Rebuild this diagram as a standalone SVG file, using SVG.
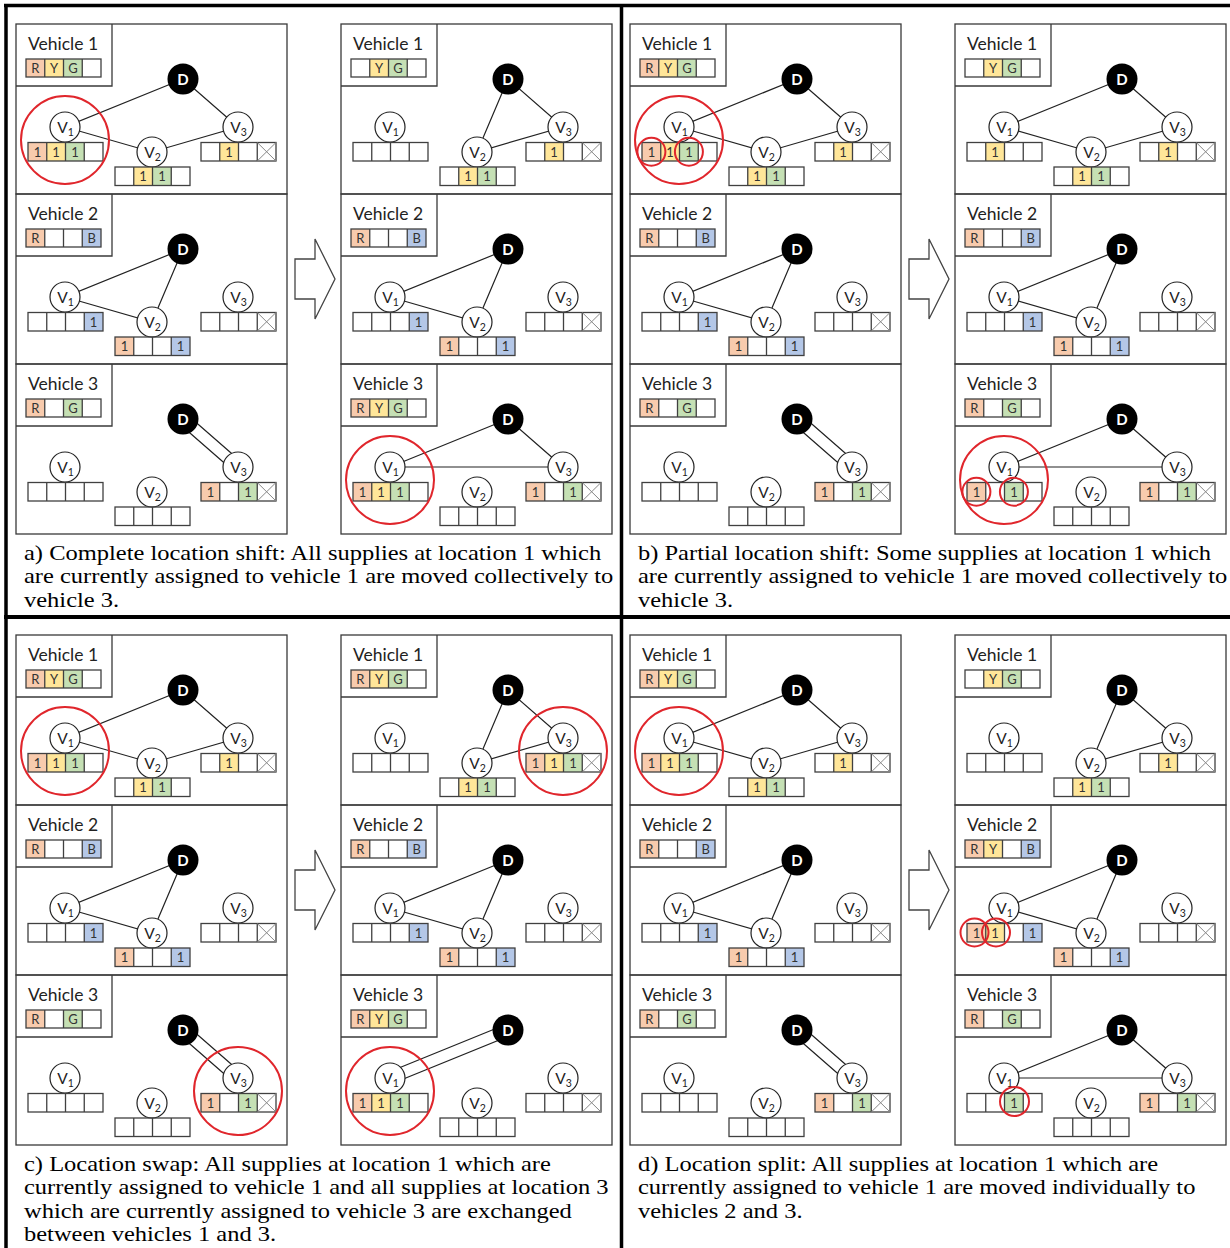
<svg xmlns="http://www.w3.org/2000/svg" xmlns:xlink="http://www.w3.org/1999/xlink" width="1230" height="1248" viewBox="0 0 1230 1248">
<style>
.fr{fill:none;stroke:#3a3a3a;stroke-width:1.3}
.gb{fill:none;stroke:#404040;stroke-width:1.3}
.R{fill:#F8CBAD}.Y{fill:#FFE699}.G{fill:#C5E0B4}.B{fill:#B4C7E7}
.e{fill:none;stroke:#222;stroke-width:1.2}
.n{fill:#fff;stroke:#222;stroke-width:1.2}
.dn{fill:#000}
.xl{stroke:#888;stroke-width:1}
.rd{fill:none;stroke:#E0262C;stroke-width:2}
.lb{font-family:Lato,"Open Sans",sans-serif;font-size:17.5px;fill:#222}
.ct{font-family:Lato,"Open Sans",sans-serif;font-size:13px;fill:#333;text-anchor:middle}
.vt{font-family:Lato,"Open Sans",sans-serif;font-size:15.5px;fill:#222;text-anchor:middle}
.sb{font-size:10.5px}
.dt{font-family:Lato,"Open Sans",sans-serif;font-size:15px;font-weight:bold;fill:#fff;text-anchor:middle}
.cap{font-family:"Liberation Serif","Times New Roman",serif;font-size:21px;fill:#000}
.ar{fill:#fff;stroke:#444;stroke-width:1.3}
.bd{stroke:#000;fill:none}
</style>
<defs>
<g id="fr"><rect class="fr" x="0" y="0" width="271" height="170"/><path class="fr" d="M0,62H96V0"/></g>
<g id="g4"><rect class="gb" width="75" height="18.5"/><path class="gb" d="M18.75,0V18.5M37.5,0V18.5M56.25,0V18.5"/></g>
<g id="g4l"><rect class="gb" width="75" height="18"/><path class="gb" d="M18.75,0V18M37.5,0V18M56.25,0V18"/></g>
<path id="xx" class="xl" d="M56.25,0L75,18.5M56.25,18.5L75,0"/>
</defs>
<rect width="1230" height="1248" fill="#fff"/>

<!-- ================= PANEL A ================= -->
<g id="aL1" transform="translate(16,24)">
<use href="#fr"/>
<text class="lb" x="12" y="26">Vehicle 1</text>
<g transform="translate(10,35)"><rect class="R" width="18.75" height="18"/><rect class="Y" x="18.75" width="18.75" height="18"/><rect class="G" x="37.5" width="18.75" height="18"/><use href="#g4l"/><text class="ct" x="9.4" y="13.5">R</text><text class="ct" x="28.1" y="13.5">Y</text><text class="ct" x="46.9" y="13.5">G</text></g>
<g class="edges"><path class="e" d="M167,55L49,103L136,128L222,103Z"/></g>
<g id="aL1-D"><circle class="dn" cx="167" cy="55" r="15.5"/><text class="dt" x="167" y="60.5">D</text></g>
<g id="aL1-V1"><circle class="n" cx="49" cy="103" r="15"/><text class="vt" x="49.5" y="108.5">V<tspan class="sb" dy="3">1</tspan></text></g>
<g id="aL1-V2"><circle class="n" cx="136" cy="128" r="15"/><text class="vt" x="136.5" y="133.5">V<tspan class="sb" dy="3">2</tspan></text></g>
<g id="aL1-V3"><circle class="n" cx="222" cy="103" r="15"/><text class="vt" x="222.5" y="108.5">V<tspan class="sb" dy="3">3</tspan></text></g>
<g transform="translate(12,118.5)"><rect class="R" width="18.75" height="18.5"/><rect class="Y" x="18.75" width="18.75" height="18.5"/><rect class="G" x="37.5" width="18.75" height="18.5"/><use href="#g4"/><text class="ct" x="9.4" y="14">1</text><text class="ct" x="28.1" y="14">1</text><text class="ct" x="46.9" y="14">1</text></g>
<g transform="translate(99,143)"><rect class="Y" x="18.75" width="18.75" height="18.5"/><rect class="G" x="37.5" width="18.75" height="18.5"/><use href="#g4"/><text class="ct" x="28.1" y="14">1</text><text class="ct" x="46.9" y="14">1</text></g>
<g transform="translate(185,118.5)"><rect class="Y" x="18.75" width="18.75" height="18.5"/><use href="#g4"/><use href="#xx"/><text class="ct" x="28.1" y="14">1</text></g>
<circle class="rd" cx="49" cy="116" r="44"/>
</g>

<g id="aL2" transform="translate(16,194)">
<use href="#fr"/>
<text class="lb" x="12" y="26">Vehicle 2</text>
<g transform="translate(10,35)"><rect class="R" width="18.75" height="18"/><rect class="B" x="56.25" width="18.75" height="18"/><use href="#g4l"/><text class="ct" x="9.4" y="13.5">R</text><text class="ct" x="65.6" y="13.5">B</text></g>
<g class="edges"><path class="e" d="M167,55L49,103L136,128Z"/></g>
<g id="aL2-D"><circle class="dn" cx="167" cy="55" r="15.5"/><text class="dt" x="167" y="60.5">D</text></g>
<g id="aL2-V1"><circle class="n" cx="49" cy="103" r="15"/><text class="vt" x="49.5" y="108.5">V<tspan class="sb" dy="3">1</tspan></text></g>
<g id="aL2-V2"><circle class="n" cx="136" cy="128" r="15"/><text class="vt" x="136.5" y="133.5">V<tspan class="sb" dy="3">2</tspan></text></g>
<g id="aL2-V3"><circle class="n" cx="222" cy="103" r="15"/><text class="vt" x="222.5" y="108.5">V<tspan class="sb" dy="3">3</tspan></text></g>
<g transform="translate(12,118.5)"><rect class="B" x="56.25" width="18.75" height="18.5"/><use href="#g4"/><text class="ct" x="65.6" y="14">1</text></g>
<g transform="translate(99,143)"><rect class="R" width="18.75" height="18.5"/><rect class="B" x="56.25" width="18.75" height="18.5"/><use href="#g4"/><text class="ct" x="9.4" y="14">1</text><text class="ct" x="65.6" y="14">1</text></g>
<g transform="translate(185,118.5)"><use href="#g4"/><use href="#xx"/></g>
</g>

<g id="aL3" transform="translate(16,364)">
<use href="#fr"/>
<text class="lb" x="12" y="26">Vehicle 3</text>
<g transform="translate(10,35)"><rect class="R" width="18.75" height="18"/><rect class="G" x="37.5" width="18.75" height="18"/><use href="#g4l"/><text class="ct" x="9.4" y="13.5">R</text><text class="ct" x="46.9" y="13.5">G</text></g>
<g class="edges"><path class="e" d="M170.95,50.48L225.95,98.48M163.05,59.52L218.05,107.52"/></g>
<g id="aL3-D"><circle class="dn" cx="167" cy="55" r="15.5"/><text class="dt" x="167" y="60.5">D</text></g>
<g id="aL3-V1"><circle class="n" cx="49" cy="103" r="15"/><text class="vt" x="49.5" y="108.5">V<tspan class="sb" dy="3">1</tspan></text></g>
<g id="aL3-V2"><circle class="n" cx="136" cy="128" r="15"/><text class="vt" x="136.5" y="133.5">V<tspan class="sb" dy="3">2</tspan></text></g>
<g id="aL3-V3"><circle class="n" cx="222" cy="103" r="15"/><text class="vt" x="222.5" y="108.5">V<tspan class="sb" dy="3">3</tspan></text></g>
<g transform="translate(12,118.5)"><use href="#g4"/></g>
<g transform="translate(99,143)"><use href="#g4"/></g>
<g transform="translate(185,118.5)"><rect class="R" width="18.75" height="18.5"/><rect class="G" x="37.5" width="18.75" height="18.5"/><use href="#g4"/><use href="#xx"/><text class="ct" x="9.4" y="14">1</text><text class="ct" x="46.9" y="14">1</text></g>
</g>

<g id="aR1" transform="translate(341,24)">
<use href="#fr"/>
<text class="lb" x="12" y="26">Vehicle 1</text>
<g transform="translate(10,35)"><rect class="Y" x="18.75" width="18.75" height="18"/><rect class="G" x="37.5" width="18.75" height="18"/><use href="#g4l"/><text class="ct" x="28.1" y="13.5">Y</text><text class="ct" x="46.9" y="13.5">G</text></g>
<g class="edges"><path class="e" d="M167,55L136,128L222,103Z"/></g>
<g id="aR1-D"><circle class="dn" cx="167" cy="55" r="15.5"/><text class="dt" x="167" y="60.5">D</text></g>
<g id="aR1-V1"><circle class="n" cx="49" cy="103" r="15"/><text class="vt" x="49.5" y="108.5">V<tspan class="sb" dy="3">1</tspan></text></g>
<g id="aR1-V2"><circle class="n" cx="136" cy="128" r="15"/><text class="vt" x="136.5" y="133.5">V<tspan class="sb" dy="3">2</tspan></text></g>
<g id="aR1-V3"><circle class="n" cx="222" cy="103" r="15"/><text class="vt" x="222.5" y="108.5">V<tspan class="sb" dy="3">3</tspan></text></g>
<g transform="translate(12,118.5)"><use href="#g4"/></g>
<g transform="translate(99,143)"><rect class="Y" x="18.75" width="18.75" height="18.5"/><rect class="G" x="37.5" width="18.75" height="18.5"/><use href="#g4"/><text class="ct" x="28.1" y="14">1</text><text class="ct" x="46.9" y="14">1</text></g>
<g transform="translate(185,118.5)"><rect class="Y" x="18.75" width="18.75" height="18.5"/><use href="#g4"/><use href="#xx"/><text class="ct" x="28.1" y="14">1</text></g>
</g>

<g id="aR2" transform="translate(341,194)">
<use href="#fr"/>
<text class="lb" x="12" y="26">Vehicle 2</text>
<g transform="translate(10,35)"><rect class="R" width="18.75" height="18"/><rect class="B" x="56.25" width="18.75" height="18"/><use href="#g4l"/><text class="ct" x="9.4" y="13.5">R</text><text class="ct" x="65.6" y="13.5">B</text></g>
<g class="edges"><path class="e" d="M167,55L49,103L136,128Z"/></g>
<g id="aR2-D"><circle class="dn" cx="167" cy="55" r="15.5"/><text class="dt" x="167" y="60.5">D</text></g>
<g id="aR2-V1"><circle class="n" cx="49" cy="103" r="15"/><text class="vt" x="49.5" y="108.5">V<tspan class="sb" dy="3">1</tspan></text></g>
<g id="aR2-V2"><circle class="n" cx="136" cy="128" r="15"/><text class="vt" x="136.5" y="133.5">V<tspan class="sb" dy="3">2</tspan></text></g>
<g id="aR2-V3"><circle class="n" cx="222" cy="103" r="15"/><text class="vt" x="222.5" y="108.5">V<tspan class="sb" dy="3">3</tspan></text></g>
<g transform="translate(12,118.5)"><rect class="B" x="56.25" width="18.75" height="18.5"/><use href="#g4"/><text class="ct" x="65.6" y="14">1</text></g>
<g transform="translate(99,143)"><rect class="R" width="18.75" height="18.5"/><rect class="B" x="56.25" width="18.75" height="18.5"/><use href="#g4"/><text class="ct" x="9.4" y="14">1</text><text class="ct" x="65.6" y="14">1</text></g>
<g transform="translate(185,118.5)"><use href="#g4"/><use href="#xx"/></g>
</g>

<g id="aR3" transform="translate(341,364)">
<use href="#fr"/>
<text class="lb" x="12" y="26">Vehicle 3</text>
<g transform="translate(10,35)"><rect class="R" width="18.75" height="18"/><rect class="Y" x="18.75" width="18.75" height="18"/><rect class="G" x="37.5" width="18.75" height="18"/><use href="#g4l"/><text class="ct" x="9.4" y="13.5">R</text><text class="ct" x="28.1" y="13.5">Y</text><text class="ct" x="46.9" y="13.5">G</text></g>
<g class="edges"><path class="e" d="M167,55L49,103L222,103Z"/></g>
<g id="aR3-D"><circle class="dn" cx="167" cy="55" r="15.5"/><text class="dt" x="167" y="60.5">D</text></g>
<g id="aR3-V1"><circle class="n" cx="49" cy="103" r="15"/><text class="vt" x="49.5" y="108.5">V<tspan class="sb" dy="3">1</tspan></text></g>
<g id="aR3-V2"><circle class="n" cx="136" cy="128" r="15"/><text class="vt" x="136.5" y="133.5">V<tspan class="sb" dy="3">2</tspan></text></g>
<g id="aR3-V3"><circle class="n" cx="222" cy="103" r="15"/><text class="vt" x="222.5" y="108.5">V<tspan class="sb" dy="3">3</tspan></text></g>
<g transform="translate(12,118.5)"><rect class="R" width="18.75" height="18.5"/><rect class="Y" x="18.75" width="18.75" height="18.5"/><rect class="G" x="37.5" width="18.75" height="18.5"/><use href="#g4"/><text class="ct" x="9.4" y="14">1</text><text class="ct" x="28.1" y="14">1</text><text class="ct" x="46.9" y="14">1</text></g>
<g transform="translate(99,143)"><use href="#g4"/></g>
<g transform="translate(185,118.5)"><rect class="R" width="18.75" height="18.5"/><rect class="G" x="37.5" width="18.75" height="18.5"/><use href="#g4"/><use href="#xx"/><text class="ct" x="9.4" y="14">1</text><text class="ct" x="46.9" y="14">1</text></g>
<circle class="rd" cx="49" cy="116" r="44"/>
</g>
<polygon id="arrowA" class="ar" points="295,259 315,259 315,239 335,279 315,319 315,299 295,299"/>

<!-- ================= PANEL B ================= -->
<g id="bL1" transform="translate(630,24)">
<use href="#fr"/>
<text class="lb" x="12" y="26">Vehicle 1</text>
<g transform="translate(10,35)"><rect class="R" width="18.75" height="18"/><rect class="Y" x="18.75" width="18.75" height="18"/><rect class="G" x="37.5" width="18.75" height="18"/><use href="#g4l"/><text class="ct" x="9.4" y="13.5">R</text><text class="ct" x="28.1" y="13.5">Y</text><text class="ct" x="46.9" y="13.5">G</text></g>
<g class="edges"><path class="e" d="M167,55L49,103L136,128L222,103Z"/></g>
<g id="bL1-D"><circle class="dn" cx="167" cy="55" r="15.5"/><text class="dt" x="167" y="60.5">D</text></g>
<g id="bL1-V1"><circle class="n" cx="49" cy="103" r="15"/><text class="vt" x="49.5" y="108.5">V<tspan class="sb" dy="3">1</tspan></text></g>
<g id="bL1-V2"><circle class="n" cx="136" cy="128" r="15"/><text class="vt" x="136.5" y="133.5">V<tspan class="sb" dy="3">2</tspan></text></g>
<g id="bL1-V3"><circle class="n" cx="222" cy="103" r="15"/><text class="vt" x="222.5" y="108.5">V<tspan class="sb" dy="3">3</tspan></text></g>
<g transform="translate(12,118.5)"><rect class="R" width="18.75" height="18.5"/><rect class="Y" x="18.75" width="18.75" height="18.5"/><rect class="G" x="37.5" width="18.75" height="18.5"/><use href="#g4"/><text class="ct" x="9.4" y="14">1</text><text class="ct" x="28.1" y="14">1</text><text class="ct" x="46.9" y="14">1</text></g>
<g transform="translate(99,143)"><rect class="Y" x="18.75" width="18.75" height="18.5"/><rect class="G" x="37.5" width="18.75" height="18.5"/><use href="#g4"/><text class="ct" x="28.1" y="14">1</text><text class="ct" x="46.9" y="14">1</text></g>
<g transform="translate(185,118.5)"><rect class="Y" x="18.75" width="18.75" height="18.5"/><use href="#g4"/><use href="#xx"/><text class="ct" x="28.1" y="14">1</text></g>
<circle class="rd" cx="49" cy="116" r="44"/>
<circle class="rd" cx="21.4" cy="127.75" r="14"/>
<circle class="rd" cx="58.9" cy="127.75" r="14"/>
</g>

<g id="bL2" transform="translate(630,194)">
<use href="#fr"/>
<text class="lb" x="12" y="26">Vehicle 2</text>
<g transform="translate(10,35)"><rect class="R" width="18.75" height="18"/><rect class="B" x="56.25" width="18.75" height="18"/><use href="#g4l"/><text class="ct" x="9.4" y="13.5">R</text><text class="ct" x="65.6" y="13.5">B</text></g>
<g class="edges"><path class="e" d="M167,55L49,103L136,128Z"/></g>
<g id="bL2-D"><circle class="dn" cx="167" cy="55" r="15.5"/><text class="dt" x="167" y="60.5">D</text></g>
<g id="bL2-V1"><circle class="n" cx="49" cy="103" r="15"/><text class="vt" x="49.5" y="108.5">V<tspan class="sb" dy="3">1</tspan></text></g>
<g id="bL2-V2"><circle class="n" cx="136" cy="128" r="15"/><text class="vt" x="136.5" y="133.5">V<tspan class="sb" dy="3">2</tspan></text></g>
<g id="bL2-V3"><circle class="n" cx="222" cy="103" r="15"/><text class="vt" x="222.5" y="108.5">V<tspan class="sb" dy="3">3</tspan></text></g>
<g transform="translate(12,118.5)"><rect class="B" x="56.25" width="18.75" height="18.5"/><use href="#g4"/><text class="ct" x="65.6" y="14">1</text></g>
<g transform="translate(99,143)"><rect class="R" width="18.75" height="18.5"/><rect class="B" x="56.25" width="18.75" height="18.5"/><use href="#g4"/><text class="ct" x="9.4" y="14">1</text><text class="ct" x="65.6" y="14">1</text></g>
<g transform="translate(185,118.5)"><use href="#g4"/><use href="#xx"/></g>
</g>

<g id="bL3" transform="translate(630,364)">
<use href="#fr"/>
<text class="lb" x="12" y="26">Vehicle 3</text>
<g transform="translate(10,35)"><rect class="R" width="18.75" height="18"/><rect class="G" x="37.5" width="18.75" height="18"/><use href="#g4l"/><text class="ct" x="9.4" y="13.5">R</text><text class="ct" x="46.9" y="13.5">G</text></g>
<g class="edges"><path class="e" d="M170.95,50.48L225.95,98.48M163.05,59.52L218.05,107.52"/></g>
<g id="bL3-D"><circle class="dn" cx="167" cy="55" r="15.5"/><text class="dt" x="167" y="60.5">D</text></g>
<g id="bL3-V1"><circle class="n" cx="49" cy="103" r="15"/><text class="vt" x="49.5" y="108.5">V<tspan class="sb" dy="3">1</tspan></text></g>
<g id="bL3-V2"><circle class="n" cx="136" cy="128" r="15"/><text class="vt" x="136.5" y="133.5">V<tspan class="sb" dy="3">2</tspan></text></g>
<g id="bL3-V3"><circle class="n" cx="222" cy="103" r="15"/><text class="vt" x="222.5" y="108.5">V<tspan class="sb" dy="3">3</tspan></text></g>
<g transform="translate(12,118.5)"><use href="#g4"/></g>
<g transform="translate(99,143)"><use href="#g4"/></g>
<g transform="translate(185,118.5)"><rect class="R" width="18.75" height="18.5"/><rect class="G" x="37.5" width="18.75" height="18.5"/><use href="#g4"/><use href="#xx"/><text class="ct" x="9.4" y="14">1</text><text class="ct" x="46.9" y="14">1</text></g>
</g>

<g id="bR1" transform="translate(955,24)">
<use href="#fr"/>
<text class="lb" x="12" y="26">Vehicle 1</text>
<g transform="translate(10,35)"><rect class="Y" x="18.75" width="18.75" height="18"/><rect class="G" x="37.5" width="18.75" height="18"/><use href="#g4l"/><text class="ct" x="28.1" y="13.5">Y</text><text class="ct" x="46.9" y="13.5">G</text></g>
<g class="edges"><path class="e" d="M167,55L49,103L136,128L222,103Z"/></g>
<g id="bR1-D"><circle class="dn" cx="167" cy="55" r="15.5"/><text class="dt" x="167" y="60.5">D</text></g>
<g id="bR1-V1"><circle class="n" cx="49" cy="103" r="15"/><text class="vt" x="49.5" y="108.5">V<tspan class="sb" dy="3">1</tspan></text></g>
<g id="bR1-V2"><circle class="n" cx="136" cy="128" r="15"/><text class="vt" x="136.5" y="133.5">V<tspan class="sb" dy="3">2</tspan></text></g>
<g id="bR1-V3"><circle class="n" cx="222" cy="103" r="15"/><text class="vt" x="222.5" y="108.5">V<tspan class="sb" dy="3">3</tspan></text></g>
<g transform="translate(12,118.5)"><rect class="Y" x="18.75" width="18.75" height="18.5"/><use href="#g4"/><text class="ct" x="28.1" y="14">1</text></g>
<g transform="translate(99,143)"><rect class="Y" x="18.75" width="18.75" height="18.5"/><rect class="G" x="37.5" width="18.75" height="18.5"/><use href="#g4"/><text class="ct" x="28.1" y="14">1</text><text class="ct" x="46.9" y="14">1</text></g>
<g transform="translate(185,118.5)"><rect class="Y" x="18.75" width="18.75" height="18.5"/><use href="#g4"/><use href="#xx"/><text class="ct" x="28.1" y="14">1</text></g>
</g>

<g id="bR2" transform="translate(955,194)">
<use href="#fr"/>
<text class="lb" x="12" y="26">Vehicle 2</text>
<g transform="translate(10,35)"><rect class="R" width="18.75" height="18"/><rect class="B" x="56.25" width="18.75" height="18"/><use href="#g4l"/><text class="ct" x="9.4" y="13.5">R</text><text class="ct" x="65.6" y="13.5">B</text></g>
<g class="edges"><path class="e" d="M167,55L49,103L136,128Z"/></g>
<g id="bR2-D"><circle class="dn" cx="167" cy="55" r="15.5"/><text class="dt" x="167" y="60.5">D</text></g>
<g id="bR2-V1"><circle class="n" cx="49" cy="103" r="15"/><text class="vt" x="49.5" y="108.5">V<tspan class="sb" dy="3">1</tspan></text></g>
<g id="bR2-V2"><circle class="n" cx="136" cy="128" r="15"/><text class="vt" x="136.5" y="133.5">V<tspan class="sb" dy="3">2</tspan></text></g>
<g id="bR2-V3"><circle class="n" cx="222" cy="103" r="15"/><text class="vt" x="222.5" y="108.5">V<tspan class="sb" dy="3">3</tspan></text></g>
<g transform="translate(12,118.5)"><rect class="B" x="56.25" width="18.75" height="18.5"/><use href="#g4"/><text class="ct" x="65.6" y="14">1</text></g>
<g transform="translate(99,143)"><rect class="R" width="18.75" height="18.5"/><rect class="B" x="56.25" width="18.75" height="18.5"/><use href="#g4"/><text class="ct" x="9.4" y="14">1</text><text class="ct" x="65.6" y="14">1</text></g>
<g transform="translate(185,118.5)"><use href="#g4"/><use href="#xx"/></g>
</g>

<g id="bR3" transform="translate(955,364)">
<use href="#fr"/>
<text class="lb" x="12" y="26">Vehicle 3</text>
<g transform="translate(10,35)"><rect class="R" width="18.75" height="18"/><rect class="G" x="37.5" width="18.75" height="18"/><use href="#g4l"/><text class="ct" x="9.4" y="13.5">R</text><text class="ct" x="46.9" y="13.5">G</text></g>
<g class="edges"><path class="e" d="M167,55L49,103L222,103Z"/></g>
<g id="bR3-D"><circle class="dn" cx="167" cy="55" r="15.5"/><text class="dt" x="167" y="60.5">D</text></g>
<g id="bR3-V1"><circle class="n" cx="49" cy="103" r="15"/><text class="vt" x="49.5" y="108.5">V<tspan class="sb" dy="3">1</tspan></text></g>
<g id="bR3-V2"><circle class="n" cx="136" cy="128" r="15"/><text class="vt" x="136.5" y="133.5">V<tspan class="sb" dy="3">2</tspan></text></g>
<g id="bR3-V3"><circle class="n" cx="222" cy="103" r="15"/><text class="vt" x="222.5" y="108.5">V<tspan class="sb" dy="3">3</tspan></text></g>
<g transform="translate(12,118.5)"><rect class="R" width="18.75" height="18.5"/><rect class="G" x="37.5" width="18.75" height="18.5"/><use href="#g4"/><text class="ct" x="9.4" y="14">1</text><text class="ct" x="46.9" y="14">1</text></g>
<g transform="translate(99,143)"><use href="#g4"/></g>
<g transform="translate(185,118.5)"><rect class="R" width="18.75" height="18.5"/><rect class="G" x="37.5" width="18.75" height="18.5"/><use href="#g4"/><use href="#xx"/><text class="ct" x="9.4" y="14">1</text><text class="ct" x="46.9" y="14">1</text></g>
<circle class="rd" cx="49" cy="116" r="44"/>
<circle class="rd" cx="21.4" cy="127.75" r="14"/>
<circle class="rd" cx="58.9" cy="127.75" r="14"/>
</g>
<polygon id="arrowB" class="ar" points="909,259 929,259 929,239 949,279 929,319 929,299 909,299"/>

<!-- ================= PANEL C ================= -->
<g id="cL1" transform="translate(16,635)">
<use href="#fr"/>
<text class="lb" x="12" y="26">Vehicle 1</text>
<g transform="translate(10,35)"><rect class="R" width="18.75" height="18"/><rect class="Y" x="18.75" width="18.75" height="18"/><rect class="G" x="37.5" width="18.75" height="18"/><use href="#g4l"/><text class="ct" x="9.4" y="13.5">R</text><text class="ct" x="28.1" y="13.5">Y</text><text class="ct" x="46.9" y="13.5">G</text></g>
<g class="edges"><path class="e" d="M167,55L49,103L136,128L222,103Z"/></g>
<g id="cL1-D"><circle class="dn" cx="167" cy="55" r="15.5"/><text class="dt" x="167" y="60.5">D</text></g>
<g id="cL1-V1"><circle class="n" cx="49" cy="103" r="15"/><text class="vt" x="49.5" y="108.5">V<tspan class="sb" dy="3">1</tspan></text></g>
<g id="cL1-V2"><circle class="n" cx="136" cy="128" r="15"/><text class="vt" x="136.5" y="133.5">V<tspan class="sb" dy="3">2</tspan></text></g>
<g id="cL1-V3"><circle class="n" cx="222" cy="103" r="15"/><text class="vt" x="222.5" y="108.5">V<tspan class="sb" dy="3">3</tspan></text></g>
<g transform="translate(12,118.5)"><rect class="R" width="18.75" height="18.5"/><rect class="Y" x="18.75" width="18.75" height="18.5"/><rect class="G" x="37.5" width="18.75" height="18.5"/><use href="#g4"/><text class="ct" x="9.4" y="14">1</text><text class="ct" x="28.1" y="14">1</text><text class="ct" x="46.9" y="14">1</text></g>
<g transform="translate(99,143)"><rect class="Y" x="18.75" width="18.75" height="18.5"/><rect class="G" x="37.5" width="18.75" height="18.5"/><use href="#g4"/><text class="ct" x="28.1" y="14">1</text><text class="ct" x="46.9" y="14">1</text></g>
<g transform="translate(185,118.5)"><rect class="Y" x="18.75" width="18.75" height="18.5"/><use href="#g4"/><use href="#xx"/><text class="ct" x="28.1" y="14">1</text></g>
<circle class="rd" cx="49" cy="116" r="44"/>
</g>

<g id="cL2" transform="translate(16,805)">
<use href="#fr"/>
<text class="lb" x="12" y="26">Vehicle 2</text>
<g transform="translate(10,35)"><rect class="R" width="18.75" height="18"/><rect class="B" x="56.25" width="18.75" height="18"/><use href="#g4l"/><text class="ct" x="9.4" y="13.5">R</text><text class="ct" x="65.6" y="13.5">B</text></g>
<g class="edges"><path class="e" d="M167,55L49,103L136,128Z"/></g>
<g id="cL2-D"><circle class="dn" cx="167" cy="55" r="15.5"/><text class="dt" x="167" y="60.5">D</text></g>
<g id="cL2-V1"><circle class="n" cx="49" cy="103" r="15"/><text class="vt" x="49.5" y="108.5">V<tspan class="sb" dy="3">1</tspan></text></g>
<g id="cL2-V2"><circle class="n" cx="136" cy="128" r="15"/><text class="vt" x="136.5" y="133.5">V<tspan class="sb" dy="3">2</tspan></text></g>
<g id="cL2-V3"><circle class="n" cx="222" cy="103" r="15"/><text class="vt" x="222.5" y="108.5">V<tspan class="sb" dy="3">3</tspan></text></g>
<g transform="translate(12,118.5)"><rect class="B" x="56.25" width="18.75" height="18.5"/><use href="#g4"/><text class="ct" x="65.6" y="14">1</text></g>
<g transform="translate(99,143)"><rect class="R" width="18.75" height="18.5"/><rect class="B" x="56.25" width="18.75" height="18.5"/><use href="#g4"/><text class="ct" x="9.4" y="14">1</text><text class="ct" x="65.6" y="14">1</text></g>
<g transform="translate(185,118.5)"><use href="#g4"/><use href="#xx"/></g>
</g>

<g id="cL3" transform="translate(16,975)">
<use href="#fr"/>
<text class="lb" x="12" y="26">Vehicle 3</text>
<g transform="translate(10,35)"><rect class="R" width="18.75" height="18"/><rect class="G" x="37.5" width="18.75" height="18"/><use href="#g4l"/><text class="ct" x="9.4" y="13.5">R</text><text class="ct" x="46.9" y="13.5">G</text></g>
<g class="edges"><path class="e" d="M170.95,50.48L225.95,98.48M163.05,59.52L218.05,107.52"/></g>
<g id="cL3-D"><circle class="dn" cx="167" cy="55" r="15.5"/><text class="dt" x="167" y="60.5">D</text></g>
<g id="cL3-V1"><circle class="n" cx="49" cy="103" r="15"/><text class="vt" x="49.5" y="108.5">V<tspan class="sb" dy="3">1</tspan></text></g>
<g id="cL3-V2"><circle class="n" cx="136" cy="128" r="15"/><text class="vt" x="136.5" y="133.5">V<tspan class="sb" dy="3">2</tspan></text></g>
<g id="cL3-V3"><circle class="n" cx="222" cy="103" r="15"/><text class="vt" x="222.5" y="108.5">V<tspan class="sb" dy="3">3</tspan></text></g>
<g transform="translate(12,118.5)"><use href="#g4"/></g>
<g transform="translate(99,143)"><use href="#g4"/></g>
<g transform="translate(185,118.5)"><rect class="R" width="18.75" height="18.5"/><rect class="G" x="37.5" width="18.75" height="18.5"/><use href="#g4"/><use href="#xx"/><text class="ct" x="9.4" y="14">1</text><text class="ct" x="46.9" y="14">1</text></g>
<circle class="rd" cx="222" cy="116" r="44"/>
</g>

<g id="cR1" transform="translate(341,635)">
<use href="#fr"/>
<text class="lb" x="12" y="26">Vehicle 1</text>
<g transform="translate(10,35)"><rect class="R" width="18.75" height="18"/><rect class="Y" x="18.75" width="18.75" height="18"/><rect class="G" x="37.5" width="18.75" height="18"/><use href="#g4l"/><text class="ct" x="9.4" y="13.5">R</text><text class="ct" x="28.1" y="13.5">Y</text><text class="ct" x="46.9" y="13.5">G</text></g>
<g class="edges"><path class="e" d="M167,55L136,128L222,103Z"/></g>
<g id="cR1-D"><circle class="dn" cx="167" cy="55" r="15.5"/><text class="dt" x="167" y="60.5">D</text></g>
<g id="cR1-V1"><circle class="n" cx="49" cy="103" r="15"/><text class="vt" x="49.5" y="108.5">V<tspan class="sb" dy="3">1</tspan></text></g>
<g id="cR1-V2"><circle class="n" cx="136" cy="128" r="15"/><text class="vt" x="136.5" y="133.5">V<tspan class="sb" dy="3">2</tspan></text></g>
<g id="cR1-V3"><circle class="n" cx="222" cy="103" r="15"/><text class="vt" x="222.5" y="108.5">V<tspan class="sb" dy="3">3</tspan></text></g>
<g transform="translate(12,118.5)"><use href="#g4"/></g>
<g transform="translate(99,143)"><rect class="Y" x="18.75" width="18.75" height="18.5"/><rect class="G" x="37.5" width="18.75" height="18.5"/><use href="#g4"/><text class="ct" x="28.1" y="14">1</text><text class="ct" x="46.9" y="14">1</text></g>
<g transform="translate(185,118.5)"><rect class="R" width="18.75" height="18.5"/><rect class="Y" x="18.75" width="18.75" height="18.5"/><rect class="G" x="37.5" width="18.75" height="18.5"/><use href="#g4"/><use href="#xx"/><text class="ct" x="9.4" y="14">1</text><text class="ct" x="28.1" y="14">1</text><text class="ct" x="46.9" y="14">1</text></g>
<circle class="rd" cx="222" cy="116" r="44"/>
</g>

<g id="cR2" transform="translate(341,805)">
<use href="#fr"/>
<text class="lb" x="12" y="26">Vehicle 2</text>
<g transform="translate(10,35)"><rect class="R" width="18.75" height="18"/><rect class="B" x="56.25" width="18.75" height="18"/><use href="#g4l"/><text class="ct" x="9.4" y="13.5">R</text><text class="ct" x="65.6" y="13.5">B</text></g>
<g class="edges"><path class="e" d="M167,55L49,103L136,128Z"/></g>
<g id="cR2-D"><circle class="dn" cx="167" cy="55" r="15.5"/><text class="dt" x="167" y="60.5">D</text></g>
<g id="cR2-V1"><circle class="n" cx="49" cy="103" r="15"/><text class="vt" x="49.5" y="108.5">V<tspan class="sb" dy="3">1</tspan></text></g>
<g id="cR2-V2"><circle class="n" cx="136" cy="128" r="15"/><text class="vt" x="136.5" y="133.5">V<tspan class="sb" dy="3">2</tspan></text></g>
<g id="cR2-V3"><circle class="n" cx="222" cy="103" r="15"/><text class="vt" x="222.5" y="108.5">V<tspan class="sb" dy="3">3</tspan></text></g>
<g transform="translate(12,118.5)"><rect class="B" x="56.25" width="18.75" height="18.5"/><use href="#g4"/><text class="ct" x="65.6" y="14">1</text></g>
<g transform="translate(99,143)"><rect class="R" width="18.75" height="18.5"/><rect class="B" x="56.25" width="18.75" height="18.5"/><use href="#g4"/><text class="ct" x="9.4" y="14">1</text><text class="ct" x="65.6" y="14">1</text></g>
<g transform="translate(185,118.5)"><use href="#g4"/><use href="#xx"/></g>
</g>

<g id="cR3" transform="translate(341,975)">
<use href="#fr"/>
<text class="lb" x="12" y="26">Vehicle 3</text>
<g transform="translate(10,35)"><rect class="R" width="18.75" height="18"/><rect class="Y" x="18.75" width="18.75" height="18"/><rect class="G" x="37.5" width="18.75" height="18"/><use href="#g4l"/><text class="ct" x="9.4" y="13.5">R</text><text class="ct" x="28.1" y="13.5">Y</text><text class="ct" x="46.9" y="13.5">G</text></g>
<g class="edges"><path class="e" d="M169.26,60.56L51.26,108.56M164.74,49.44L46.74,97.44"/></g>
<g id="cR3-D"><circle class="dn" cx="167" cy="55" r="15.5"/><text class="dt" x="167" y="60.5">D</text></g>
<g id="cR3-V1"><circle class="n" cx="49" cy="103" r="15"/><text class="vt" x="49.5" y="108.5">V<tspan class="sb" dy="3">1</tspan></text></g>
<g id="cR3-V2"><circle class="n" cx="136" cy="128" r="15"/><text class="vt" x="136.5" y="133.5">V<tspan class="sb" dy="3">2</tspan></text></g>
<g id="cR3-V3"><circle class="n" cx="222" cy="103" r="15"/><text class="vt" x="222.5" y="108.5">V<tspan class="sb" dy="3">3</tspan></text></g>
<g transform="translate(12,118.5)"><rect class="R" width="18.75" height="18.5"/><rect class="Y" x="18.75" width="18.75" height="18.5"/><rect class="G" x="37.5" width="18.75" height="18.5"/><use href="#g4"/><text class="ct" x="9.4" y="14">1</text><text class="ct" x="28.1" y="14">1</text><text class="ct" x="46.9" y="14">1</text></g>
<g transform="translate(99,143)"><use href="#g4"/></g>
<g transform="translate(185,118.5)"><use href="#g4"/><use href="#xx"/></g>
<circle class="rd" cx="49" cy="116" r="44"/>
</g>
<polygon id="arrowC" class="ar" points="295,870 315,870 315,850 335,890 315,930 315,910 295,910"/>

<!-- ================= PANEL D ================= -->
<g id="dL1" transform="translate(630,635)">
<use href="#fr"/>
<text class="lb" x="12" y="26">Vehicle 1</text>
<g transform="translate(10,35)"><rect class="R" width="18.75" height="18"/><rect class="Y" x="18.75" width="18.75" height="18"/><rect class="G" x="37.5" width="18.75" height="18"/><use href="#g4l"/><text class="ct" x="9.4" y="13.5">R</text><text class="ct" x="28.1" y="13.5">Y</text><text class="ct" x="46.9" y="13.5">G</text></g>
<g class="edges"><path class="e" d="M167,55L49,103L136,128L222,103Z"/></g>
<g id="dL1-D"><circle class="dn" cx="167" cy="55" r="15.5"/><text class="dt" x="167" y="60.5">D</text></g>
<g id="dL1-V1"><circle class="n" cx="49" cy="103" r="15"/><text class="vt" x="49.5" y="108.5">V<tspan class="sb" dy="3">1</tspan></text></g>
<g id="dL1-V2"><circle class="n" cx="136" cy="128" r="15"/><text class="vt" x="136.5" y="133.5">V<tspan class="sb" dy="3">2</tspan></text></g>
<g id="dL1-V3"><circle class="n" cx="222" cy="103" r="15"/><text class="vt" x="222.5" y="108.5">V<tspan class="sb" dy="3">3</tspan></text></g>
<g transform="translate(12,118.5)"><rect class="R" width="18.75" height="18.5"/><rect class="Y" x="18.75" width="18.75" height="18.5"/><rect class="G" x="37.5" width="18.75" height="18.5"/><use href="#g4"/><text class="ct" x="9.4" y="14">1</text><text class="ct" x="28.1" y="14">1</text><text class="ct" x="46.9" y="14">1</text></g>
<g transform="translate(99,143)"><rect class="Y" x="18.75" width="18.75" height="18.5"/><rect class="G" x="37.5" width="18.75" height="18.5"/><use href="#g4"/><text class="ct" x="28.1" y="14">1</text><text class="ct" x="46.9" y="14">1</text></g>
<g transform="translate(185,118.5)"><rect class="Y" x="18.75" width="18.75" height="18.5"/><use href="#g4"/><use href="#xx"/><text class="ct" x="28.1" y="14">1</text></g>
<circle class="rd" cx="49" cy="116" r="44"/>
</g>

<g id="dL2" transform="translate(630,805)">
<use href="#fr"/>
<text class="lb" x="12" y="26">Vehicle 2</text>
<g transform="translate(10,35)"><rect class="R" width="18.75" height="18"/><rect class="B" x="56.25" width="18.75" height="18"/><use href="#g4l"/><text class="ct" x="9.4" y="13.5">R</text><text class="ct" x="65.6" y="13.5">B</text></g>
<g class="edges"><path class="e" d="M167,55L49,103L136,128Z"/></g>
<g id="dL2-D"><circle class="dn" cx="167" cy="55" r="15.5"/><text class="dt" x="167" y="60.5">D</text></g>
<g id="dL2-V1"><circle class="n" cx="49" cy="103" r="15"/><text class="vt" x="49.5" y="108.5">V<tspan class="sb" dy="3">1</tspan></text></g>
<g id="dL2-V2"><circle class="n" cx="136" cy="128" r="15"/><text class="vt" x="136.5" y="133.5">V<tspan class="sb" dy="3">2</tspan></text></g>
<g id="dL2-V3"><circle class="n" cx="222" cy="103" r="15"/><text class="vt" x="222.5" y="108.5">V<tspan class="sb" dy="3">3</tspan></text></g>
<g transform="translate(12,118.5)"><rect class="B" x="56.25" width="18.75" height="18.5"/><use href="#g4"/><text class="ct" x="65.6" y="14">1</text></g>
<g transform="translate(99,143)"><rect class="R" width="18.75" height="18.5"/><rect class="B" x="56.25" width="18.75" height="18.5"/><use href="#g4"/><text class="ct" x="9.4" y="14">1</text><text class="ct" x="65.6" y="14">1</text></g>
<g transform="translate(185,118.5)"><use href="#g4"/><use href="#xx"/></g>
</g>

<g id="dL3" transform="translate(630,975)">
<use href="#fr"/>
<text class="lb" x="12" y="26">Vehicle 3</text>
<g transform="translate(10,35)"><rect class="R" width="18.75" height="18"/><rect class="G" x="37.5" width="18.75" height="18"/><use href="#g4l"/><text class="ct" x="9.4" y="13.5">R</text><text class="ct" x="46.9" y="13.5">G</text></g>
<g class="edges"><path class="e" d="M170.95,50.48L225.95,98.48M163.05,59.52L218.05,107.52"/></g>
<g id="dL3-D"><circle class="dn" cx="167" cy="55" r="15.5"/><text class="dt" x="167" y="60.5">D</text></g>
<g id="dL3-V1"><circle class="n" cx="49" cy="103" r="15"/><text class="vt" x="49.5" y="108.5">V<tspan class="sb" dy="3">1</tspan></text></g>
<g id="dL3-V2"><circle class="n" cx="136" cy="128" r="15"/><text class="vt" x="136.5" y="133.5">V<tspan class="sb" dy="3">2</tspan></text></g>
<g id="dL3-V3"><circle class="n" cx="222" cy="103" r="15"/><text class="vt" x="222.5" y="108.5">V<tspan class="sb" dy="3">3</tspan></text></g>
<g transform="translate(12,118.5)"><use href="#g4"/></g>
<g transform="translate(99,143)"><use href="#g4"/></g>
<g transform="translate(185,118.5)"><rect class="R" width="18.75" height="18.5"/><rect class="G" x="37.5" width="18.75" height="18.5"/><use href="#g4"/><use href="#xx"/><text class="ct" x="9.4" y="14">1</text><text class="ct" x="46.9" y="14">1</text></g>
</g>

<g id="dR1" transform="translate(955,635)">
<use href="#fr"/>
<text class="lb" x="12" y="26">Vehicle 1</text>
<g transform="translate(10,35)"><rect class="Y" x="18.75" width="18.75" height="18"/><rect class="G" x="37.5" width="18.75" height="18"/><use href="#g4l"/><text class="ct" x="28.1" y="13.5">Y</text><text class="ct" x="46.9" y="13.5">G</text></g>
<g class="edges"><path class="e" d="M167,55L136,128L222,103Z"/></g>
<g id="dR1-D"><circle class="dn" cx="167" cy="55" r="15.5"/><text class="dt" x="167" y="60.5">D</text></g>
<g id="dR1-V1"><circle class="n" cx="49" cy="103" r="15"/><text class="vt" x="49.5" y="108.5">V<tspan class="sb" dy="3">1</tspan></text></g>
<g id="dR1-V2"><circle class="n" cx="136" cy="128" r="15"/><text class="vt" x="136.5" y="133.5">V<tspan class="sb" dy="3">2</tspan></text></g>
<g id="dR1-V3"><circle class="n" cx="222" cy="103" r="15"/><text class="vt" x="222.5" y="108.5">V<tspan class="sb" dy="3">3</tspan></text></g>
<g transform="translate(12,118.5)"><use href="#g4"/></g>
<g transform="translate(99,143)"><rect class="Y" x="18.75" width="18.75" height="18.5"/><rect class="G" x="37.5" width="18.75" height="18.5"/><use href="#g4"/><text class="ct" x="28.1" y="14">1</text><text class="ct" x="46.9" y="14">1</text></g>
<g transform="translate(185,118.5)"><rect class="Y" x="18.75" width="18.75" height="18.5"/><use href="#g4"/><use href="#xx"/><text class="ct" x="28.1" y="14">1</text></g>
</g>

<g id="dR2" transform="translate(955,805)">
<use href="#fr"/>
<text class="lb" x="12" y="26">Vehicle 2</text>
<g transform="translate(10,35)"><rect class="R" width="18.75" height="18"/><rect class="Y" x="18.75" width="18.75" height="18"/><rect class="B" x="56.25" width="18.75" height="18"/><use href="#g4l"/><text class="ct" x="9.4" y="13.5">R</text><text class="ct" x="28.1" y="13.5">Y</text><text class="ct" x="65.6" y="13.5">B</text></g>
<g class="edges"><path class="e" d="M167,55L49,103L136,128Z"/></g>
<g id="dR2-D"><circle class="dn" cx="167" cy="55" r="15.5"/><text class="dt" x="167" y="60.5">D</text></g>
<g id="dR2-V1"><circle class="n" cx="49" cy="103" r="15"/><text class="vt" x="49.5" y="108.5">V<tspan class="sb" dy="3">1</tspan></text></g>
<g id="dR2-V2"><circle class="n" cx="136" cy="128" r="15"/><text class="vt" x="136.5" y="133.5">V<tspan class="sb" dy="3">2</tspan></text></g>
<g id="dR2-V3"><circle class="n" cx="222" cy="103" r="15"/><text class="vt" x="222.5" y="108.5">V<tspan class="sb" dy="3">3</tspan></text></g>
<g transform="translate(12,118.5)"><rect class="R" width="18.75" height="18.5"/><rect class="Y" x="18.75" width="18.75" height="18.5"/><rect class="B" x="56.25" width="18.75" height="18.5"/><use href="#g4"/><text class="ct" x="9.4" y="14">1</text><text class="ct" x="28.1" y="14">1</text><text class="ct" x="65.6" y="14">1</text></g>
<g transform="translate(99,143)"><rect class="R" width="18.75" height="18.5"/><rect class="B" x="56.25" width="18.75" height="18.5"/><use href="#g4"/><text class="ct" x="9.4" y="14">1</text><text class="ct" x="65.6" y="14">1</text></g>
<g transform="translate(185,118.5)"><use href="#g4"/><use href="#xx"/></g>
<circle class="rd" cx="19.5" cy="127.5" r="14"/>
<circle class="rd" cx="41" cy="127.5" r="14"/>
</g>

<g id="dR3" transform="translate(955,975)">
<use href="#fr"/>
<text class="lb" x="12" y="26">Vehicle 3</text>
<g transform="translate(10,35)"><rect class="R" width="18.75" height="18"/><rect class="G" x="37.5" width="18.75" height="18"/><use href="#g4l"/><text class="ct" x="9.4" y="13.5">R</text><text class="ct" x="46.9" y="13.5">G</text></g>
<g class="edges"><path class="e" d="M167,55L49,103L222,103Z"/></g>
<g id="dR3-D"><circle class="dn" cx="167" cy="55" r="15.5"/><text class="dt" x="167" y="60.5">D</text></g>
<g id="dR3-V1"><circle class="n" cx="49" cy="103" r="15"/><text class="vt" x="49.5" y="108.5">V<tspan class="sb" dy="3">1</tspan></text></g>
<g id="dR3-V2"><circle class="n" cx="136" cy="128" r="15"/><text class="vt" x="136.5" y="133.5">V<tspan class="sb" dy="3">2</tspan></text></g>
<g id="dR3-V3"><circle class="n" cx="222" cy="103" r="15"/><text class="vt" x="222.5" y="108.5">V<tspan class="sb" dy="3">3</tspan></text></g>
<g transform="translate(12,118.5)"><rect class="G" x="37.5" width="18.75" height="18.5"/><use href="#g4"/><text class="ct" x="46.9" y="14">1</text></g>
<g transform="translate(99,143)"><use href="#g4"/></g>
<g transform="translate(185,118.5)"><rect class="R" width="18.75" height="18.5"/><rect class="G" x="37.5" width="18.75" height="18.5"/><use href="#g4"/><use href="#xx"/><text class="ct" x="9.4" y="14">1</text><text class="ct" x="46.9" y="14">1</text></g>
<circle class="rd" cx="59.5" cy="126.5" r="14.5"/>
</g>
<polygon id="arrowD" class="ar" points="909,870 929,870 929,850 949,890 929,930 929,910 909,910"/>

<!-- captions -->
<g id="captions">
<g id="capA" transform="translate(24,0) scale(1.1667,1)">
<text class="cap" x="0" y="560">a) Complete location shift: All supplies at location 1 which</text>
<text class="cap" x="0" y="583.5">are currently assigned to vehicle 1 are moved collectively to</text>
<text class="cap" x="0" y="607">vehicle 3.</text>
</g>
<g id="capB" transform="translate(638,0) scale(1.1667,1)">
<text class="cap" x="0" y="560">b) Partial location shift: Some supplies at location 1 which</text>
<text class="cap" x="0" y="583.5">are currently assigned to vehicle 1 are moved collectively to</text>
<text class="cap" x="0" y="607">vehicle 3.</text>
</g>
<g id="capC" transform="translate(24,0) scale(1.1667,1)">
<text class="cap" x="0" y="1171">c) Location swap: All supplies at location 1 which are</text>
<text class="cap" x="0" y="1194.5">currently assigned to vehicle 1 and all supplies at location 3</text>
<text class="cap" x="0" y="1218">which are currently assigned to vehicle 3 are exchanged</text>
<text class="cap" x="0" y="1241.5">between vehicles 1 and 3.</text>
</g>
<g id="capD" transform="translate(638,0) scale(1.1667,1)">
<text class="cap" x="0" y="1171">d) Location split: All supplies at location 1 which are</text>
<text class="cap" x="0" y="1194.5">currently assigned to vehicle 1 are moved individually to</text>
<text class="cap" x="0" y="1218">vehicles 2 and 3.</text>
</g>
</g>

<!-- outer frame -->
<g id="frame">
<line class="bd" x1="4" y1="5.5" x2="1230" y2="5.5" stroke-width="3.5"/>
<line class="bd" x1="6" y1="4" x2="6" y2="1248" stroke-width="3.5"/>
<line class="bd" x1="621.5" y1="4" x2="621.5" y2="1248" stroke-width="3.5"/>
<line class="bd" x1="4" y1="617" x2="1230" y2="617" stroke-width="4"/>
</g>
</svg>
